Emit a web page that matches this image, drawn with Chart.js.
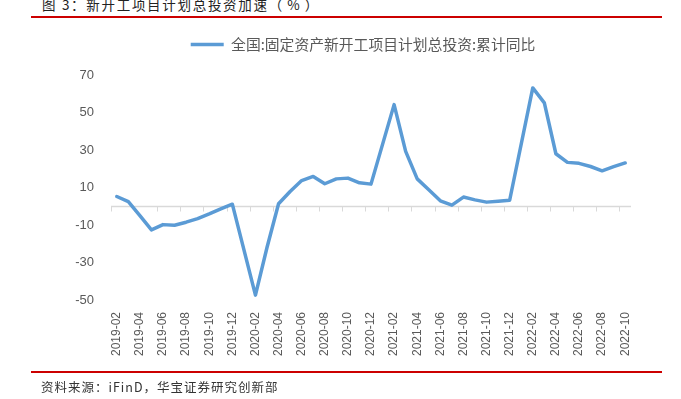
<!DOCTYPE html>
<html>
<head>
<meta charset="utf-8">
<script src="https://cdn.jsdelivr.net/npm/chart.js@4"></script>
<style>
  body { margin: 0; background: #fff; }
  #wrap { position: relative; width: 681px; height: 399px; overflow: hidden; }
  #titulo { position: absolute; left: 42px; top: -3px; font: 13.5px "Noto Sans CJK SC"; letter-spacing: 1.7px; line-height: 14px; color: #222; white-space: nowrap; }
  #titulo span { letter-spacing: 5px; }
  #fonte { position: absolute; left: 41px; top: 380px; font: 12.5px "Noto Sans CJK SC"; letter-spacing: 1px; line-height: 14px; color: #333; white-space: nowrap; }
  .linha { position: absolute; left: 31px; width: 631px; height: 2px; background: #cc0000; }
  canvas { position: absolute; left: 0; top: 0; }
</style>
</head>
<body>
<div id="wrap">
  <div id="titulo">图 3：新开工项目计划总投资加速<span>（%）</span></div>
  <div class="linha" style="top:16px"></div>
  <canvas id="grafico" width="681" height="399"></canvas>
  <div class="linha" style="top:371px"></div>
  <div id="fonte">资料来源：iFinD，华宝证券研究创新部</div>
</div>
<script>
const meses = [
  "2019-02", "2019-03", "2019-04", "2019-05", "2019-06", "2019-07", "2019-08", "2019-09", "2019-10", "2019-11", "2019-12",
  "2020-01", "2020-02", "2020-03", "2020-04", "2020-05", "2020-06", "2020-07", "2020-08", "2020-09", "2020-10", "2020-11", "2020-12",
  "2021-01", "2021-02", "2021-03", "2021-04", "2021-05", "2021-06", "2021-07", "2021-08", "2021-09", "2021-10", "2021-11", "2021-12",
  "2022-01", "2022-02", "2022-03", "2022-04", "2022-05", "2022-06", "2022-07", "2022-08", "2022-09", "2022-10",
];

// janeiro nao tem dado (acumulado jan-fev)
const acumulado = [
  5.2, 2.5, -5.0, -12.6, -9.8, -10.1, -8.5, -6.6, -4.1, -1.4, 1.1,
  null, -47.4, -22.0, 1.3, 7.9, 13.7, 15.9, 12.0, 14.6, 15.0, 12.5, 11.8,
  null, 54.2, 29.3, 14.6, 8.8, 2.9, 0.6, 4.9, 3.4, 2.2, 2.7, 3.2,
  null, 63.1, 55.1, 28.0, 23.4, 22.9, 21.2, 18.9, 21.1, 23.1,
];

const minY = -50;
const maxY = 70;
const qtdTicksY = 7; // -50, -30, ..., 70

const nomeSerie = "全国:固定资产新开工项目计划总投资:累计同比";

// linha do zero e marcas do eixo a cada 2 categorias
const eixoZero = {
  id: "eixoZero",
  beforeDatasetsDraw(chart) {
    const x = chart.scales.x;
    const y = chart.scales.y;
    const ctx = chart.ctx;
    const area = chart.chartArea;
    const passo = x.getPixelForValue(1) - x.getPixelForValue(0);
    const y0 = Math.round(y.getPixelForValue(0)) + 0.5;
    ctx.save();
    ctx.strokeStyle = "#d9d9d9";
    ctx.lineWidth = 1.5;
    ctx.beginPath();
    ctx.moveTo(area.left, y0);
    ctx.lineTo(area.right, y0);
    ctx.stroke();
    ctx.lineWidth = 1;
    ctx.beginPath();
    for (let i = 0; i < meses.length; i += 2) {
      const px = Math.round(x.getPixelForValue(i) - passo / 2) + 0.5;
      ctx.moveTo(px, y0);
      ctx.lineTo(px, y0 + 5);
    }
    ctx.stroke();
    ctx.restore();
  },
};

new Chart(document.getElementById("grafico"), {
  type: "line",
  data: {
    labels: meses,
    datasets: [
      {
        label: nomeSerie,
        data: acumulado,
        borderColor: "#5b9bd5",
        backgroundColor: "#5b9bd5",
        borderWidth: 3.5,
        borderCapStyle: "round",
        borderJoinStyle: "round",
        pointRadius: 0,
        tension: 0,
        spanGaps: true,
      },
    ],
  },
  options: {
    responsive: false,
    animation: false,
    layout: { padding: { left: 70, right: 25, top: 8, bottom: 0 } },
    plugins: {
      tooltip: { enabled: false },
      legend: {
        position: "top",
        labels: {
          usePointStyle: true,
          pointStyle: "line",
          pointStyleWidth: 33,
          padding: 29,
          color: "#595959",
          font: { family: "Noto Sans CJK SC", size: 14.8 },
        },
      },
      // so um espaco entre a legenda e o grafico
      title: {
        display: true,
        text: "",
        weight: 500,
        padding: 0,
        font: { size: 13.2, lineHeight: 1 },
      },
    },
    scales: {
      x: {
        offset: true,
        grid: { display: false, drawTicks: false },
        border: { display: false },
        afterFit(scale) {
          scale.height = 99;
        },
        ticks: {
          autoSkip: false,
          minRotation: 90,
          maxRotation: 90,
          padding: 12,
          color: "#595959",
          font: { family: "Liberation Sans", size: 12 },
          callback: function (valor, indice) {
            return indice % 2 === 0 ? meses[indice] : "";
          },
        },
      },
      y: {
        min: minY,
        max: maxY,
        afterFit(scale) {
          scale.width = 41;
        },
        grid: { display: false, drawTicks: false },
        border: { display: false },
        ticks: {
          count: qtdTicksY,
          padding: 17,
          color: "#595959",
          font: { family: "Liberation Sans", size: 13 },
        },
      },
      // eixo vazio a direita, so para centrar a legenda como no original
      direita: {
        position: "right",
        display: true,
        min: minY,
        max: maxY,
        afterFit(scale) {
          scale.width = 25;
        },
        grid: { display: false, drawTicks: false },
        border: { display: false },
        ticks: { display: false },
      },
    },
  },
  plugins: [eixoZero],
});
</script>
</body>
</html>
